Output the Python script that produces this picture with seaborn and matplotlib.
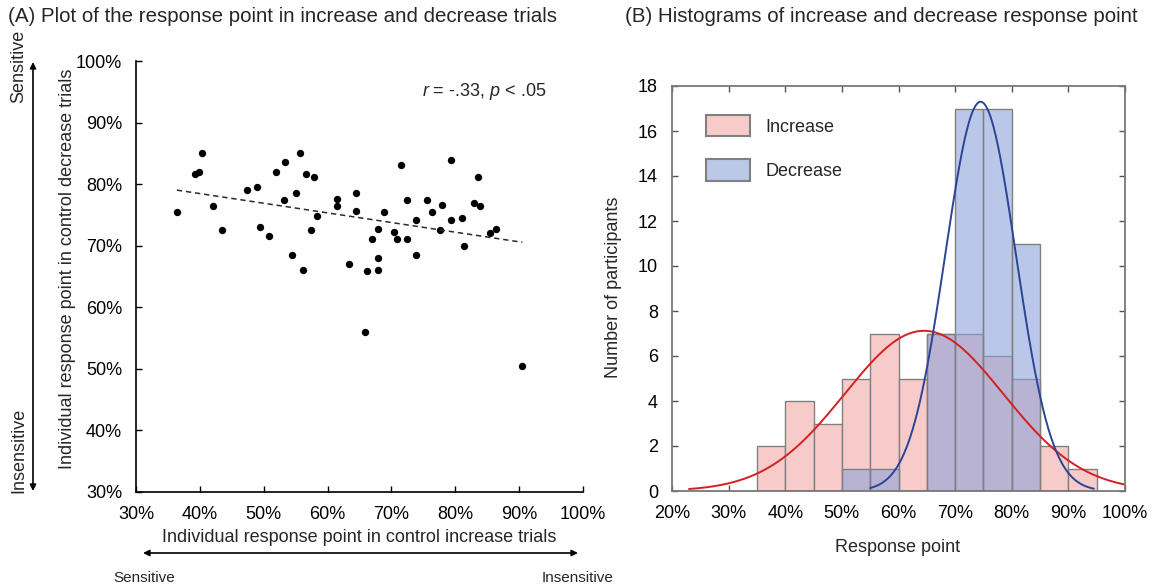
import numpy as np
import matplotlib
matplotlib.use("Agg")
import matplotlib.pyplot as plt
from matplotlib.patches import Patch, FancyArrowPatch
from matplotlib.ticker import FuncFormatter
import seaborn as sns

# (A) individual response points (%), one per participant
inc_point = [36.4, 39.3, 39.9, 40.4, 42.0, 43.4, 47.4, 48.9, 49.4, 50.9, 52.0, 53.1, 53.4,
             54.4, 55.1, 55.7, 56.2, 56.7, 57.4, 57.9, 58.3, 61.5, 61.4, 63.3, 64.5, 64.4,
             65.9, 66.2, 66.9, 67.9, 67.9, 67.9, 68.8, 70.4, 70.9, 71.5, 72.4, 72.5, 73.9,
             73.9, 75.6, 76.4, 77.9, 77.6, 79.4, 79.4, 81.0, 81.4, 82.9, 83.8, 83.6, 85.4,
             86.3, 90.5]
dec_point = [75.5, 81.6, 82.0, 85.1, 76.5, 72.6, 79.0, 79.5, 73.0, 71.5, 82.0, 77.4, 83.6,
             68.5, 78.6, 85.1, 66.0, 81.6, 72.6, 81.1, 74.8, 77.6, 76.4, 67.0, 78.6, 75.6,
             56.0, 65.9, 71.1, 72.7, 68.0, 66.1, 75.5, 72.2, 71.1, 83.1, 71.1, 77.5, 74.1,
             68.5, 77.5, 75.5, 76.6, 72.6, 84.0, 74.1, 74.5, 70.0, 76.9, 76.4, 81.1, 72.0,
             72.7, 50.5]

# (B) histogram counts per 5% bin
bin_edges = [35, 40, 45, 50, 55, 60, 65, 70, 75, 80, 85, 90, 95]
inc_counts = [2, 4, 3, 5, 7, 5, 7, 7, 6, 5, 2, 1]
dec_counts = [0, 0, 0, 1, 1, 0, 7, 17, 17, 11, 0, 0]

# fitted normal curves: mean, sd, peak, x range
inc_fit = dict(mean=64.5, sd=14.0, peak=7.12, lo=23, hi=100)
dec_fit = dict(mean=74.5, sd=6.25, peak=17.3, lo=55, hi=94.5)

W, H = 1160, 587

sns.set_theme(style="ticks")
plt.rcParams["font.family"] = ["Liberation Sans", "DejaVu Sans"]
plt.rcParams["mathtext.fontset"] = "custom"
plt.rcParams["mathtext.rm"] = "Liberation Sans"
plt.rcParams["mathtext.it"] = "Liberation Sans:italic"

fig = plt.figure(figsize=(W / 100, H / 100), dpi=100)


def box(l, t, r, b):
    return [l / W, 1 - b / H, (r - l) / W, (b - t) / H]


pct = FuncFormatter(lambda v, _: f"{v:.0f}%")
tick_fs = 13
label_fs = 13
title_fs = 14.8

# ---------- (A) scatter ----------
ax1 = fig.add_axes(box(136, 61, 583, 492))
sns.regplot(x=inc_point, y=dec_point, ax=ax1, ci=None, truncate=True,
            scatter_kws=dict(s=28, color="black", linewidths=0, alpha=1),
            line_kws=dict(color="#2a2a2a", lw=1.1, ls=(0, (3.5, 2.5))))
ax1.set_xlim(30, 100)
ax1.set_ylim(30, 100)
ax1.set_xticks(range(30, 101, 10))
ax1.set_yticks(range(30, 101, 10))
ax1.xaxis.set_major_formatter(pct)
ax1.yaxis.set_major_formatter(pct)
ax1.tick_params(direction="in", length=4, width=1, pad=10, labelsize=tick_fs, colors="black")
sns.despine(ax=ax1)
for s in ["left", "bottom"]:
    ax1.spines[s].set_color("black")
    ax1.spines[s].set_linewidth(1.2)
ax1.text(0.919, 0.93, r"$r$ = -.33, $p$ < .05", transform=ax1.transAxes,
         ha="right", va="center", fontsize=13)

# ---------- (B) histograms ----------
ax2 = fig.add_axes(box(672, 86, 1125, 491))
centers = [(a + b) / 2 for a, b in zip(bin_edges[:-1], bin_edges[1:])]
sns.histplot(x=centers, weights=inc_counts, bins=bin_edges, ax=ax2,
             color="#f8cbcb", edgecolor="#808080", linewidth=1, alpha=1)
xs = np.linspace(inc_fit["lo"], inc_fit["hi"], 300)
ax2.plot(xs, inc_fit["peak"] * np.exp(-0.5 * ((xs - inc_fit["mean"]) / inc_fit["sd"]) ** 2),
         color="#d42020", lw=1.4)
sns.histplot(x=centers, weights=dec_counts, bins=bin_edges, ax=ax2,
             color="#8fa3d9", edgecolor="#808080", linewidth=1, alpha=0.6)
xs = np.linspace(dec_fit["lo"], dec_fit["hi"], 300)
ax2.plot(xs, dec_fit["peak"] * np.exp(-0.5 * ((xs - dec_fit["mean"]) / dec_fit["sd"]) ** 2),
         color="#2a4595", lw=1.4)
ax2.set_xlim(20, 100)
ax2.set_ylim(0, 18)
ax2.set_xticks(range(20, 101, 10))
ax2.set_yticks(range(0, 19, 2))
ax2.xaxis.set_major_formatter(pct)
ax2.set_xlabel("")
ax2.set_ylabel("")
ax2.tick_params(direction="in", length=4, width=1, pad=10, labelsize=tick_fs,
                top=True, right=True, color="#555555", labelcolor="black")
for s in ax2.spines.values():
    s.set_color("#777777")
    s.set_linewidth(1.3)

handles = [Patch(facecolor="#f8cbcb", edgecolor="#808080", lw=1.5, label="Increase"),
           Patch(facecolor="#bcc8e8", edgecolor="#808080", lw=1.5, label="Decrease")]
ax2.legend(handles=handles, loc="upper left", frameon=False, fontsize=13,
           bbox_to_anchor=((706 - 672) / 453, (491 - 115) / 405), borderaxespad=0,
           borderpad=0, handlelength=2.45, handleheight=1.45, handletextpad=0.85,
           labelspacing=1.27)

# ---------- titles, labels, arrows ----------
fig.text(8 / W, 1 - 17 / H, "(A) Plot of the response point in increase and decrease trials",
         ha="left", va="center", fontsize=title_fs)
fig.text(625 / W, 1 - 17 / H, "(B) Histograms of increase and decrease response point",
         ha="left", va="center", fontsize=title_fs)

fig.text(68 / W, 1 - 269 / H, "Individual response point in control decrease trials",
         rotation=90, ha="center", va="center", fontsize=label_fs)
fig.text(359 / W, 1 - 538 / H, "Individual response point in control increase trials",
         ha="center", va="center", fontsize=label_fs)
fig.text(614 / W, 1 - 287 / H, "Number of participants",
         rotation=90, ha="center", va="center", fontsize=label_fs)
fig.text(898 / W, 1 - 548 / H, "Response point", ha="center", va="center", fontsize=label_fs)

arrow = dict(arrowstyle="<|-|>", color="black", lw=1.2, mutation_scale=9, shrinkA=0, shrinkB=0)
fig.add_artist(FancyArrowPatch((33 / W, 1 - 62 / H), (33 / W, 1 - 491 / H),
                               transform=fig.transFigure, **arrow))
fig.add_artist(FancyArrowPatch((143 / W, 1 - 553 / H), (578 / W, 1 - 553 / H),
                               transform=fig.transFigure, **arrow))
fig.text(19 / W, 1 - 66 / H, "Sensitive", rotation=90, ha="center", va="center", fontsize=13)
fig.text(19 / W, 1 - 450 / H, "Insensitive", rotation=90, ha="center", va="center", fontsize=13)
fig.text(144 / W, 1 - 578 / H, "Sensitive", ha="center", va="center", fontsize=11)
fig.text(578 / W, 1 - 578 / H, "Insensitive", ha="center", va="center", fontsize=11)

fig.savefig("out.png", dpi=100)
